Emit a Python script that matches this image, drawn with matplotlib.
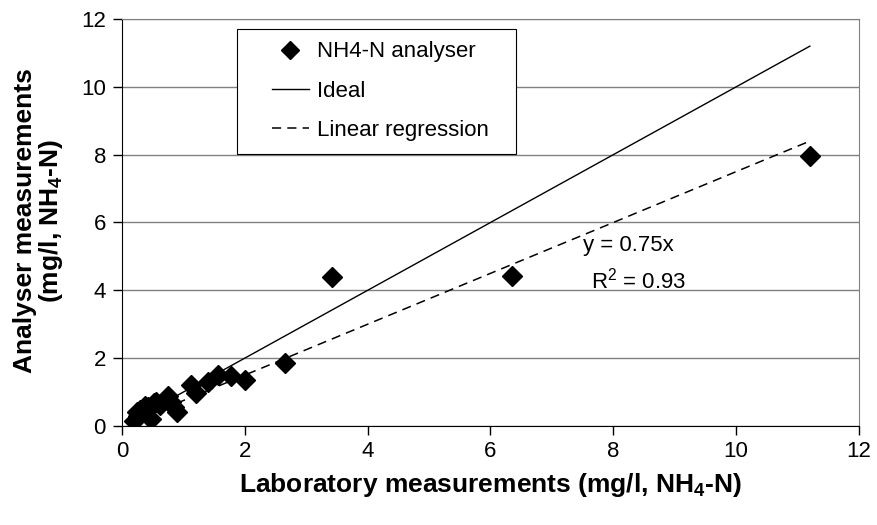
import numpy as np
import matplotlib
matplotlib.use("Agg")
import matplotlib.pyplot as plt
from matplotlib.patches import Rectangle

plt.rcParams['font.family'] = ['Liberation Sans', 'DejaVu Sans']
plt.rcParams['mathtext.fontset'] = 'custom'
plt.rcParams['mathtext.rm'] = 'Liberation Sans'
plt.rcParams['mathtext.it'] = 'Liberation Sans'
plt.rcParams['mathtext.bf'] = 'Liberation Sans:bold'

# laboratory vs analyser values (mg/l NH4-N)
lab = [0.20, 0.25, 0.27, 0.30, 0.38, 0.42, 0.48, 0.52, 0.55, 0.62, 0.72, 0.75,
       0.80, 0.85, 0.90, 1.12, 1.21, 1.40, 1.57, 1.78, 2.00, 2.66, 3.42, 6.35, 11.2]
analyser = [0.15, 0.40, 0.30, 0.47, 0.60, 0.55, 0.20, 0.67, 0.72, 0.62, 0.80, 0.88,
            0.70, 0.55, 0.42, 1.21, 0.98, 1.31, 1.50, 1.46, 1.36, 1.87, 4.38, 4.42, 7.95]
slope = 0.75
r2 = 0.93

fig = plt.figure(figsize=(8.77, 5.25), dpi=100)
ax = fig.add_axes([0.139, 0.1886, 0.8405, 0.7752])

x_line = np.array([min(lab), max(lab)])
ax.plot(lab, analyser, linestyle='none', marker='D', color='black', markersize=10.5,
        label='NH4-N analyser', zorder=5)
ax.plot(x_line, x_line, color='black', linewidth=1, label='Ideal', zorder=4)
ax.plot(x_line, slope * x_line, color='black', linewidth=1.1, dashes=(6, 4),
        label='Linear regression', zorder=4)

ax.set_xlim(0, 12)
ax.set_ylim(0, 12)
ax.set_xticks(range(0, 13, 2))
ax.set_yticks(range(0, 13, 2))
ax.yaxis.grid(True, color='#808080', linewidth=1)
ax.set_axisbelow(True)
for s in ['top', 'right']:
    ax.spines[s].set_color('#808080')
ax.tick_params(direction='out', length=6.5, labelsize=16, width=1, pad=5)
ax.tick_params(axis='x', pad=4)

ax.set_xlabel('Laboratory measurements (mg/l, NH$\\mathbf{_4}$-N)', fontsize=19,
              fontweight='bold')
ax.xaxis.set_label_coords(0.5, -0.11)
ax.set_ylabel('Analyser measurements\n(mg/l, NH$\\mathbf{_4}$-N)', fontsize=19,
              fontweight='bold', linespacing=1.0)
ax.yaxis.set_label_coords(-0.077, 0.505)

ax.text(7.5, 5.15, 'y = %.2fx' % slope, fontsize=16, va='baseline')
ax.text(7.63, 4.05, 'R$^2$ = %.2f' % r2, fontsize=16, va='baseline')

# legend box drawn as a plain white rectangle, entries placed inside it
ax.add_patch(Rectangle((0.156, 0.668), 0.379, 0.308, transform=ax.transAxes,
                       facecolor='white', edgecolor='black', linewidth=0.8,
                       zorder=3))
leg = ax.legend(loc='upper left', bbox_to_anchor=(0.203, 0.945), fontsize=16,
                frameon=False, borderpad=0, labelspacing=0.82, handlelength=1.7,
                handletextpad=0.35, borderaxespad=0, markerscale=0.85)
leg.set_zorder(6)

fig.savefig('out.png', dpi=100)
